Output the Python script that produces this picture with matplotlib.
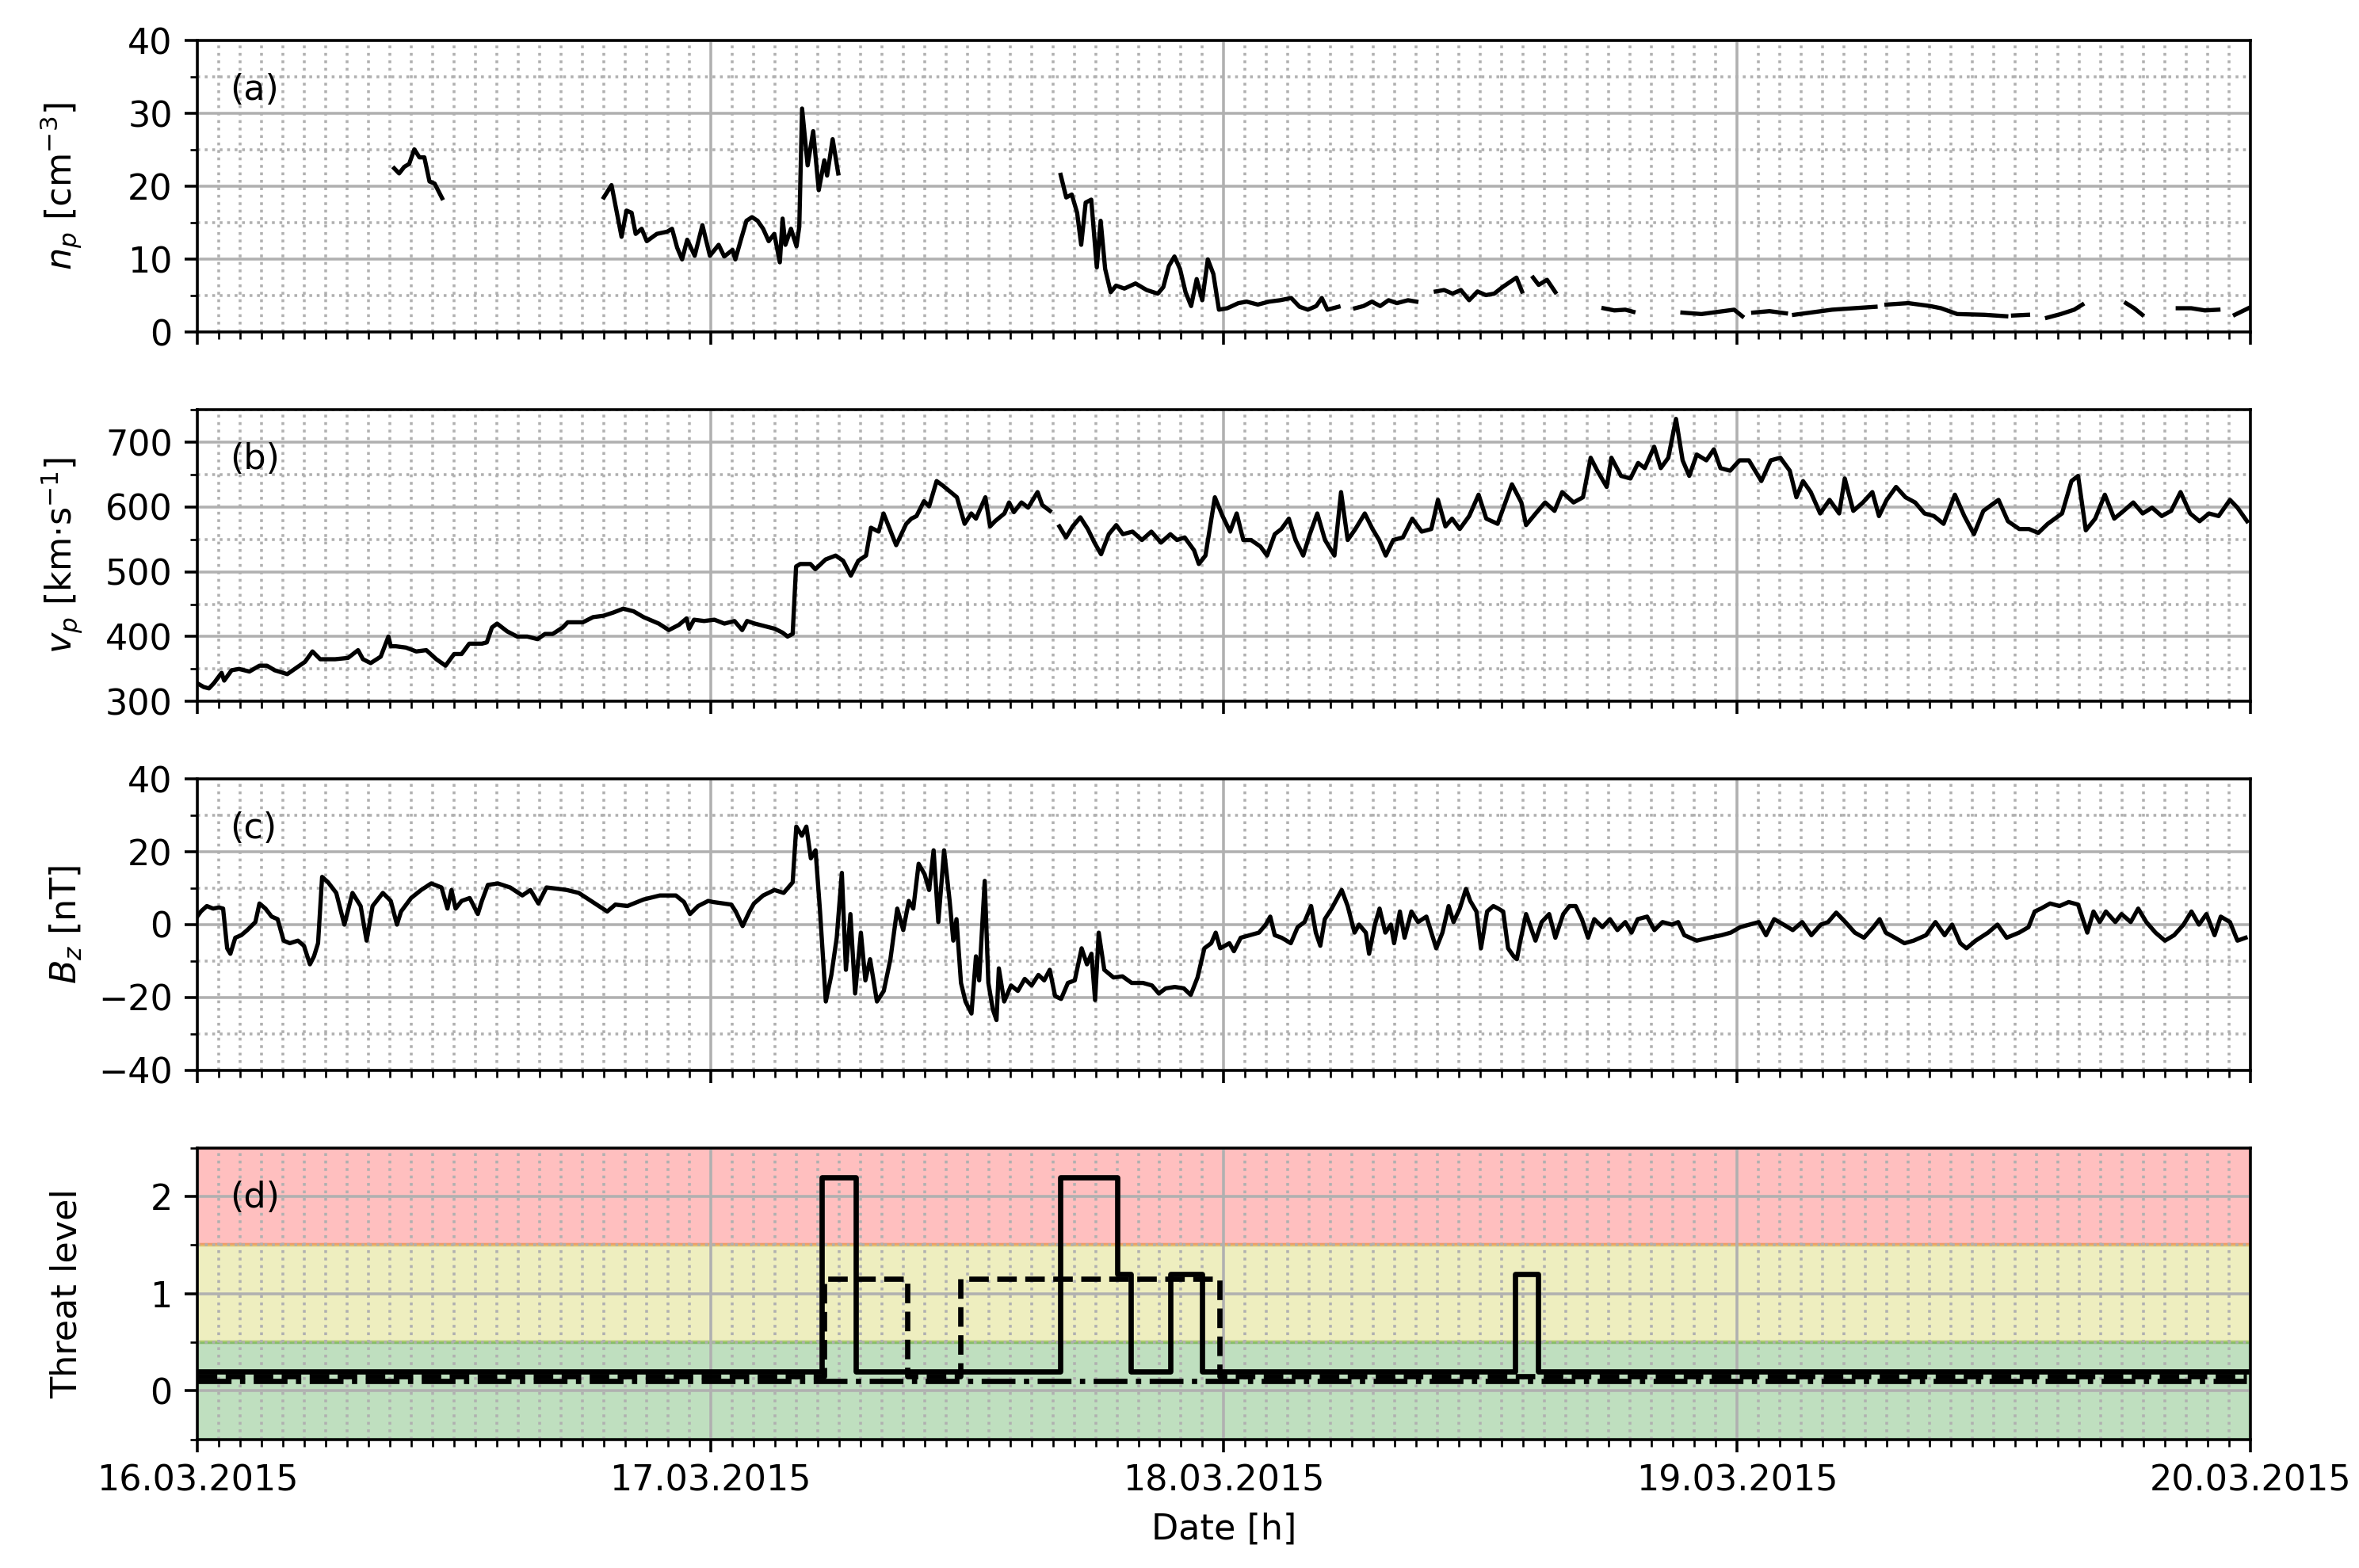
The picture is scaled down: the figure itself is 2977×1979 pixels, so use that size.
import numpy as np
import matplotlib

matplotlib.use("Agg")
import matplotlib.pyplot as plt
from matplotlib.ticker import MultipleLocator, FixedLocator, FixedFormatter

nan = np.nan

# hours since 16.03.2015 00:00
day_labels = ["16.03.2015", "17.03.2015", "18.03.2015", "19.03.2015", "20.03.2015"]

# (a) proton density, gaps as nan
np_t = [9.21, 9.44, 9.68, 9.91, 10.15, 10.39, 10.62, 10.86, 11.10, 11.45, 11.5,
        19.01, 19.37, 19.60, 19.84, 20.07, 20.31, 20.50, 20.78, 21.02, 21.49, 21.97, 22.20,
        22.44, 22.67, 22.91, 23.26, 23.62, 23.97, 24.38, 24.64, 25.03, 25.16, 25.42, 25.68,
        25.94, 26.20, 26.46, 26.72, 26.98, 27.24, 27.37, 27.50, 27.76, 28.02, 28.15, 28.28,
        28.54, 28.80, 29.06, 29.32, 29.45, 29.71, 29.97, 30.0,
        40.37, 40.63, 40.89, 41.14, 41.33, 41.54, 41.80, 42.06, 42.24, 42.45, 42.71, 42.96,
        43.35, 43.87, 44.39, 44.91, 45.17, 45.43, 45.69, 45.95, 46.21, 46.47, 46.73, 46.99,
        47.25, 47.51, 47.77, 48.16, 48.68, 49.07, 49.59, 50.11, 50.63, 51.15, 51.54, 51.93,
        52.32, 52.58, 52.84, 53.36, 53.5,
        54.14, 54.53, 54.92, 55.31, 55.70, 56.09, 56.61, 57.0, 57.1,
        57.91, 58.30, 58.69, 59.08, 59.47, 59.86, 60.25, 60.64, 61.03, 61.68, 61.94, 62.0,
        62.46, 62.72, 63.11, 63.50, 63.6,
        65.75, 66.26, 66.77, 67.15, 67.2,
        69.44, 70.33, 71.35, 71.86, 72.24, 72.3,
        72.75, 73.51, 74.28, 74.3,
        74.66, 75.42, 76.44, 77.46, 78.47, 78.5,
        78.98, 80.0, 81.02, 81.53, 82.29, 83.56, 84.58, 84.7,
        84.9, 85.60, 85.7,
        86.49, 87.13, 87.76, 88.14, 88.2,
        90.18, 90.56, 90.94, 91.0,
        92.60, 93.23, 93.87, 94.50, 94.6,
        95.27, 95.90]
np_v = [22.5, 21.8, 22.7, 23.1, 25.1, 24.0, 24.0, 20.7, 20.4, 18.4, nan,
        18.5, 20.2, 16.7, 13.1, 16.7, 16.4, 13.5, 14.2, 12.5, 13.5, 13.8, 14.2,
        11.6, 10.0, 12.7, 10.5, 14.7, 10.5, 12.0, 10.4, 11.3, 10.0, 12.7, 15.3,
        15.8, 15.3, 14.2, 12.5, 13.5, 9.6, 15.6, 12.0, 14.2, 11.8, 14.5, 30.7,
        22.9, 27.6, 19.5, 23.6, 21.5, 26.5, 21.8, nan,
        21.6, 18.5, 18.9, 16.4, 12.0, 17.8, 18.2, 8.9, 15.3, 8.7, 5.5, 6.4,
        6.0, 6.7, 5.8, 5.3, 6.2, 9.1, 10.4, 8.7, 5.5, 3.6, 7.3, 4.4,
        10.0, 8.0, 3.1, 3.3, 4.0, 4.2, 3.8, 4.2, 4.4, 4.7, 3.5, 3.1,
        3.6, 4.7, 3.1, 3.5, nan,
        3.3, 3.6, 4.2, 3.6, 4.4, 4.0, 4.4, 4.2, nan,
        5.6, 5.8, 5.3, 5.8, 4.4, 5.6, 5.1, 5.3, 6.2, 7.5, 5.6, nan,
        7.5, 6.5, 7.2, 5.5, nan,
        3.3, 3.0, 3.1, 2.8, nan,
        2.7, 2.5, 2.9, 3.1, 2.2, nan,
        2.7, 2.9, 2.6, nan,
        2.4, 2.7, 3.1, 3.3, 3.5, nan,
        3.8, 4.0, 3.6, 3.3, 2.5, 2.4, 2.2, nan,
        2.3, 2.4, nan,
        2.0, 2.5, 3.1, 3.8, nan,
        4.0, 3.3, 2.4, nan,
        3.3, 3.3, 3.0, 3.1, nan,
        2.4, 3.3]

# (b) proton speed
vp_t = [0.0, 0.31, 0.55, 0.78, 1.14, 1.26, 1.61, 1.96, 2.44, 2.91, 3.26, 3.62, 4.21, 4.56,
        5.04, 5.39, 5.75, 6.45, 7.05, 7.52, 7.75, 8.11, 8.58, 8.94, 9.05, 9.29, 9.76, 10.24,
        10.71, 11.18, 11.61, 12.01, 12.36, 12.72, 13.31, 13.54, 13.78, 14.02, 14.49, 14.96,
        15.43, 15.91, 16.26, 16.62, 17.09, 17.32, 18.03, 18.51, 18.98, 19.45, 19.92, 20.40,
        20.87, 21.58, 22.05, 22.52, 22.88, 23.0, 23.23, 23.70, 24.18, 24.65, 25.12, 25.48,
        25.71, 26.07, 26.54, 27.01, 27.37, 27.60, 27.84, 28.0, 28.19, 28.67, 28.90, 29.38,
        29.85, 30.20, 30.56, 30.91, 31.27, 31.50, 31.86, 32.09, 32.68, 33.15, 33.39, 33.63,
        33.98, 34.22, 34.57, 34.86, 35.08, 35.52, 35.88, 36.19, 36.41, 36.85, 37.07, 37.30,
        37.74, 37.96, 38.18, 38.54, 38.85, 39.29, 39.51, 39.87, 40.1,
        40.31, 40.62, 40.93, 41.29, 41.64, 41.95, 42.26, 42.62, 42.97, 43.28, 43.73, 44.17,
        44.61, 45.06, 45.50, 45.81, 46.17, 46.61, 46.83, 47.14, 47.58, 47.94, 48.29, 48.60,
        48.91, 49.27, 49.71, 50.02, 50.38, 50.69, 51.04, 51.35, 51.71, 52.02, 52.37, 52.73,
        53.17, 53.48, 53.79, 54.15, 54.59, 54.95, 55.26, 55.57, 55.92, 56.37, 56.81, 57.25,
        57.70, 58.01, 58.36, 58.67, 59.03, 59.47, 59.91, 60.27, 60.80, 61.47, 61.91, 62.13,
        62.58, 63.02, 63.46, 63.82, 64.35, 64.79, 65.15, 65.46, 65.90, 66.12, 66.57, 67.01,
        67.37, 67.68, 68.12, 68.43, 68.78, 69.14, 69.45, 69.76, 70.11, 70.56, 70.91, 71.22,
        71.67, 72.11, 72.55, 73.13, 73.57, 74.02, 74.46, 74.77, 75.08, 75.44, 75.88, 76.32,
        76.77, 77.03, 77.43, 77.88, 78.32, 78.63, 78.99, 79.43, 79.87, 80.32, 80.76, 81.20,
        81.65, 82.18, 82.62, 83.07, 83.51, 84.22, 84.66, 85.19, 85.64, 86.08, 86.52, 87.19,
        87.63, 87.94, 88.30, 88.74, 89.19, 89.63, 90.07, 90.52, 90.96, 91.40, 91.85, 92.29,
        92.73, 93.18, 93.62, 94.06, 94.51, 95.04, 95.39, 95.84]
vp_v = [328, 322, 320, 328, 344, 332, 348, 350, 346, 355, 355, 348, 342, 350,
        361, 377, 365, 365, 367, 379, 365, 359, 369, 400, 385, 385, 383, 377,
        379, 365, 355, 373, 373, 389, 389, 391, 414, 420, 408, 400,
        400, 396, 404, 404, 414, 422, 422, 430, 432, 437, 443, 439,
        430, 420, 410, 418, 428, 412, 426, 424, 426, 420, 424, 410,
        424, 420, 416, 412, 406, 400, 404, 508, 512, 512, 504, 519,
        525, 517, 494, 517, 525, 568, 562, 590, 541, 574, 582, 586,
        609, 601, 640, 633, 627, 615, 574, 590, 582, 615, 570, 578,
        590, 607, 592, 607, 599, 623, 603, 594, nan,
        570, 553, 570, 584, 566, 545, 527, 558, 572, 558, 562, 549,
        562, 545, 558, 549, 553, 533, 512, 525, 615, 586, 562, 590,
        549, 549, 539, 525, 558, 566, 582, 549, 525, 558, 590, 549,
        525, 623, 549, 566, 590, 566, 549, 525, 549, 553, 582, 562,
        566, 611, 570, 582, 566, 586, 619, 582, 574, 635, 607, 572,
        590, 607, 594, 623, 607, 615, 676, 656, 631, 676, 648, 644,
        668, 660, 693, 660, 676, 736, 672, 648, 681, 672, 689, 660,
        656, 672, 672, 640, 672, 676, 656, 615, 640, 623, 590, 611,
        590, 644, 594, 607, 623, 586, 611, 631, 615, 607, 590, 586,
        574, 619, 586, 558, 594, 611, 578, 566, 566, 560, 574, 590,
        640, 648, 564, 582, 619, 582, 594, 607, 590, 599, 586, 594,
        623, 590, 578, 590, 586, 611, 599, 578]

# (c) Bz
bz_t = [0.0, 0.17, 0.45, 0.74, 1.02, 1.21, 1.40, 1.55, 1.78, 2.06, 2.34, 2.72, 2.91, 3.19,
        3.48, 3.76, 4.04, 4.33, 4.71, 4.99, 5.27, 5.46, 5.65, 5.84, 6.12, 6.50, 6.88, 7.26,
        7.64, 7.92, 8.20, 8.68, 9.05, 9.34, 9.53, 10.0, 10.47, 10.94, 11.42, 11.70, 11.89,
        12.08, 12.36, 12.74, 13.12, 13.31, 13.59, 14.06, 14.63, 15.20, 15.58, 15.95, 16.33,
        16.90, 17.28, 17.84, 18.60, 19.17, 19.55, 20.11, 20.87, 21.63, 22.38, 22.76, 23.04,
        23.42, 23.89,
        24.12, 24.97, 25.18, 25.50, 25.82, 26.03, 26.46, 26.99, 27.42, 27.84, 28.01, 28.27,
        28.48, 28.69, 28.91, 29.12, 29.39, 29.65, 29.90, 30.14, 30.33, 30.54, 30.76, 31.03,
        31.24, 31.46, 31.78, 32.10, 32.41, 32.73, 33.01, 33.27, 33.48, 33.73, 34.01, 34.22,
        34.43, 34.65, 34.92, 35.18, 35.35, 35.50, 35.71, 35.92, 36.20, 36.41, 36.56, 36.82,
        36.99, 37.20, 37.37, 37.48, 37.73, 38.05, 38.37, 38.69, 39.01, 39.33, 39.60, 39.86,
        40.11, 40.39, 40.71, 41.03, 41.35, 41.60, 41.81, 41.98, 42.15, 42.41, 42.84, 43.26,
        43.69, 44.22, 44.64, 44.96, 45.28, 45.71, 46.13, 46.45, 46.77, 47.09, 47.41, 47.62,
        47.83, 48.05, 48.26, 48.47, 48.79, 49.21, 49.64, 49.96, 50.17, 50.38, 50.70, 51.13,
        51.45, 51.77, 52.08, 52.30, 52.51, 52.72, 53.04, 53.51, 53.79, 54.11, 54.32, 54.64,
        54.79, 55.06, 55.28, 55.55, 55.81, 55.96, 56.23, 56.45, 56.77, 57.08, 57.47,
        57.93, 58.22, 58.51, 58.74, 59.03, 59.32, 59.52, 59.81, 60.02, 60.31, 60.60, 60.83,
        61.06, 61.29, 61.55, 61.70, 61.84, 62.13, 62.57, 62.86, 63.21, 63.50, 63.87, 64.16,
        64.45, 64.74, 65.03, 65.32, 65.70, 66.05, 66.40, 66.77, 67.06, 67.35, 67.79, 68.13,
        68.51, 68.95, 69.24, 69.53, 70.11, 70.69, 71.27, 71.70, 72.14, 72.57, 73.01, 73.35,
        73.73, 74.17, 74.60, 75.04, 75.47, 75.91, 76.25, 76.63, 77.06, 77.50, 77.93, 78.37,
        78.66, 78.95, 79.38, 79.82, 80.25, 80.83, 81.27, 81.70, 82.05, 82.43, 82.72, 83.15,
        83.73, 84.17, 84.60, 85.18, 85.62, 85.91, 86.20, 86.63, 87.07, 87.50, 87.94, 88.37,
        88.66, 88.95, 89.24, 89.68, 89.97, 90.40, 90.75, 91.13, 91.56, 92.00, 92.43, 92.87,
        93.24, 93.59, 93.94, 94.32, 94.61, 95.04, 95.39, 95.77]
bz_v = [2.2, 3.6, 5.1, 4.4, 4.7, 4.4, -6.5, -8.0, -3.6, -2.9, -1.5, 0.7, 5.8, 4.4,
        2.2, 1.5, -4.4, -5.1, -4.4, -5.8, -10.9, -8.7, -5.1, 13.1, 11.6, 8.7, 0.0, 8.7,
        5.1, -4.4, 5.1, 8.7, 6.5, 0.0, 3.6, 7.3, 9.5, 11.3, 10.2, 4.4, 9.5,
        4.4, 6.5, 7.3, 2.9, 6.5, 10.9, 11.3, 10.2, 8.0, 9.5, 5.8, 10.2,
        9.8, 9.5, 8.7, 5.8, 3.6, 5.5, 5.1, 6.9, 8.0, 8.0, 6.2, 2.9,
        5.1, 6.5,
        6.2, 5.5, 3.6, -0.4, 3.6, 5.8, 8.0, 9.5, 8.7, 11.6, 26.9, 24.4,
        26.9, 18.2, 20.4, 3.6, -21.1, -13.8, -3.6, 14.2, -12.4, 2.9, -18.9, -2.2,
        -15.3, -9.5, -21.1, -18.2, -9.5, 4.4, -1.5, 6.5, 4.4, 16.7, 13.8, 9.5,
        20.4, 0.7, 20.4, 6.5, -4.4, 1.5, -16.0, -21.1, -24.4, -8.7, -15.3, 12.0,
        -16.0, -23.3, -26.2, -12.0, -21.1, -16.7, -18.2, -14.9, -16.7, -13.8, -15.3, -12.4,
        -19.6, -20.4, -16.0, -15.3, -6.5, -10.9, -8.0, -20.7, -2.2, -12.4, -14.5, -14.2,
        -16.0, -16.0, -16.7, -18.9, -17.5, -17.1, -17.5, -19.3, -14.5, -6.5, -5.1, -2.2,
        -6.5, -5.8, -5.1, -7.3, -3.6, -2.9, -2.2, 0.0, 2.2, -2.9, -3.6, -5.1,
        -0.7, 0.7, 5.1, -2.2, -5.8, 1.5, 4.4, 9.5, 5.1, -2.2, 0.0, -2.2,
        -8.0, 0.0, 4.4, -2.2, 0.0, -5.1, 3.6, -3.6, 3.6, 0.7, 2.2,
        -6.5, -2.2, 5.1, 0.7, 4.4, 9.8, 6.5, 3.6, -6.5, 3.6, 5.1, 4.4,
        3.6, -6.5, -8.7, -9.5, -5.1, 2.9, -4.4, 0.7, 2.9, -3.6, 2.9, 5.1,
        5.1, 1.5, -3.6, 1.5, -0.7, 1.5, -1.5, 0.7, -2.2, 1.5, 2.2, -1.5,
        0.7, 0.0, 0.7, -2.9, -4.4, -3.6, -2.9, -2.2, -0.7, 0.0, 0.7, -2.9,
        1.5, 0.0, -1.5, 0.7, -2.9, 0.0, 0.7, 3.3, 0.7, -2.2, -3.6, -0.7,
        1.5, -2.2, -3.6, -5.1, -4.4, -2.9, 0.7, -2.9, 0.0, -5.1, -6.5, -4.4,
        -2.2, 0.0, -3.6, -2.2, -0.7, 3.6, 4.4, 5.8, 5.1, 6.2, 5.5, -2.2,
        3.6, 0.7, 3.6, 0.7, 2.9, 0.7, 4.4, 0.7, -2.2, -4.4, -2.9, 0.0,
        3.6, 0.0, 2.9, -2.9, 2.2, 0.7, -4.4, -3.6]

# (d) threat levels, step edges in hours
thr_a_t = [0.0, 29.2, 30.8, 40.35, 43.0, 43.65, 45.5, 47.0, 61.6, 62.7, 95.8]
thr_a_v = [0, 2, 0, 2, 1, 0, 1, 0, 1, 0, 0]
thr_b_t = [0.0, 29.3, 33.2, 35.7, 47.8, 95.8]
thr_b_v = [0, 1, 0, 1, 0, 0]
thr_c_t = [0.0, 95.8]
thr_c_v = [0, 0]

W, H, DPI = 2977, 1979, 320
fig, axes = plt.subplots(4, 1, figsize=(W / DPI, H / DPI), dpi=DPI, sharex=True)
fig.subplots_adjust(left=0.0836, right=0.954, top=0.974, bottom=0.082, hspace=0.266)
ax_n, ax_v, ax_b, ax_d = axes

ax_n.plot(np_t, np_v, color="k", lw=1.2)
ax_v.plot(vp_t, vp_v, color="k", lw=1.2)
ax_b.plot(bz_t, bz_v, color="k", lw=1.2)

ax_d.axhspan(1.5, 2.5, color="r", alpha=0.25)
ax_d.axhspan(0.5, 1.5, color="y", alpha=0.25)
ax_d.axhspan(-0.5, 0.5, color="g", alpha=0.25)
ax_d.step(thr_a_t, np.array(thr_a_v) + 0.2, where="post", color="k", lw=1.5, ls="-")
ax_d.step(thr_b_t, np.array(thr_b_v) + 0.15, where="post", color="k", lw=1.5, ls="--")
ax_d.step(thr_c_t, np.array(thr_c_v) + 0.1, where="post", color="k", lw=1.5, ls="-.")

ax_n.set_ylim(0, 40)
ax_n.yaxis.set_major_locator(MultipleLocator(10))
ax_n.yaxis.set_minor_locator(MultipleLocator(5))
ax_n.set_ylabel(r"$n_p$ [cm$^{-3}$]")

ax_v.set_ylim(300, 750)
ax_v.yaxis.set_major_locator(MultipleLocator(100))
ax_v.yaxis.set_minor_locator(MultipleLocator(50))
ax_v.set_ylabel(r"$v_p$ [km$\cdot$s$^{-1}$]")

ax_b.set_ylim(-40, 40)
ax_b.yaxis.set_major_locator(MultipleLocator(20))
ax_b.yaxis.set_minor_locator(MultipleLocator(10))
ax_b.set_ylabel(r"$B_z$ [nT]")

ax_d.set_ylim(-0.5, 2.5)
ax_d.yaxis.set_major_locator(FixedLocator([0, 1, 2]))
ax_d.yaxis.set_minor_locator(MultipleLocator(0.5))
ax_d.set_ylabel("Threat level")

ax_d.set_xlim(0, 96)
ax_d.xaxis.set_major_locator(FixedLocator([0, 24, 48, 72, 96]))
ax_d.xaxis.set_major_formatter(FixedFormatter(day_labels))
ax_d.xaxis.set_minor_locator(MultipleLocator(1))
ax_d.set_xlabel("Date [h]")

for ax, tag in zip(axes, ["(a)", "(b)", "(c)", "(d)"]):
    ax.grid(True, which="major", color="#b0b0b0", lw=0.8)
    ax.grid(True, which="minor", color="#b0b0b0", lw=0.8, ls=":")
    ax.text(0.016, 0.83, tag, transform=ax.transAxes, ha="left", va="center")

fig.align_ylabels(axes)
fig.savefig("out.png", dpi=DPI)
